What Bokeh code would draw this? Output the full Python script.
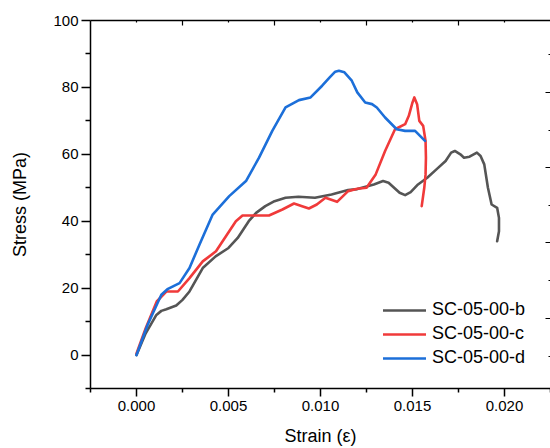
from bokeh.plotting import figure
from bokeh.models import LinearAxis, FixedTicker, Legend, LegendItem, Range1d
from bokeh.embed import file_html
from bokeh.resources import INLINE

# --- data ---
strain_b = [0.0, 0.0005, 0.00108, 0.00135, 0.00162, 0.00216, 0.0025, 0.00288, 0.0036, 0.0043,
            0.005, 0.0055, 0.0061, 0.0065, 0.007, 0.0075, 0.0081, 0.0088, 0.0097, 0.0106,
            0.0115, 0.0120, 0.0129, 0.0134, 0.0137, 0.0143, 0.0146, 0.0149, 0.0153, 0.0158,
            0.0163, 0.0168, 0.0171, 0.0173, 0.0176, 0.0178, 0.0181, 0.0185, 0.0187, 0.0189,
            0.0191, 0.0193, 0.0196, 0.0197, 0.0197, 0.0196]
stress_b = [0.0, 6.5, 12.0, 13.2, 13.7, 14.8, 16.5, 19.0, 26.0, 29.5,
            32.0, 35.0, 40.0, 42.5, 44.5, 46.0, 47.0, 47.3, 47.0, 48.0,
            49.3, 49.6, 51.0, 52.0, 51.5, 48.5, 47.8, 48.7, 51.0, 53.0,
            55.5, 58.0, 60.5, 61.0, 60.0, 59.0, 59.3, 60.5, 59.5, 57.0,
            50.0, 45.0, 44.0, 41.0, 37.0, 34.0]

strain_c = [0.0, 0.0005, 0.0011, 0.00162, 0.00225, 0.00288, 0.0036, 0.00432, 0.00504, 0.0054,
            0.00576, 0.00649, 0.0072, 0.00793, 0.00856, 0.009, 0.00937, 0.0098, 0.01027, 0.0109,
            0.0115, 0.0120, 0.0125, 0.0130, 0.01351, 0.01405, 0.0146, 0.0148, 0.0150, 0.0151,
            0.01525, 0.01537, 0.01558, 0.01571, 0.01573, 0.01571, 0.01564, 0.0155]
stress_c = [0.5, 8.0, 16.0, 19.0, 19.0, 23.0, 28.0, 31.0, 37.0, 40.0,
            41.7, 41.7, 41.7, 43.5, 45.3, 44.5, 43.8, 45.0, 47.0, 45.8,
            49.0, 49.7, 50.0, 54.0, 61.0, 67.5, 69.0, 71.5, 75.5, 77.0,
            75.0, 70.0, 68.5, 64.0, 59.0, 54.0, 50.0, 44.5]

strain_d = [0.0, 0.0006, 0.00135, 0.00171, 0.00234, 0.00288, 0.00342, 0.00414, 0.00504, 0.00595,
            0.00666, 0.00738, 0.0081, 0.00883, 0.00946, 0.01009, 0.0105, 0.0108, 0.0110, 0.0113,
            0.0117, 0.0120, 0.01243, 0.0128, 0.01306, 0.01351, 0.01414, 0.0146, 0.01514, 0.01568]
stress_d = [0.0, 9.0, 18.0, 19.8, 21.5, 26.0, 33.0, 42.0, 47.5, 52.0,
            59.0, 67.0, 74.0, 76.2, 77.0, 80.5, 83.0, 84.7, 85.0, 84.5,
            82.0, 78.5, 75.5, 75.0, 74.0, 71.0, 67.5, 67.0, 67.0, 64.0]

series_names = ["SC-05-00-b", "SC-05-00-c", "SC-05-00-d"]
series_colors = ["#555555", "#f03a3a", "#1c6fd9"]

x_ticks = [0.0, 0.005, 0.010, 0.015, 0.020]
x_minor = [-0.0025, 0.0025, 0.0075, 0.0125, 0.0175, 0.0225]
y_ticks = [0, 20, 40, 60, 80, 100]
y_minor = [-10, 10, 30, 50, 70, 90]
top_major = [0.0025, 0.0075, 0.0125, 0.0175]
top_minor = [0.0, 0.005, 0.010, 0.015, 0.020]
right_major = [11.0, 33.5, 56.0, 78.5]
right_minor = [-0.5, 22.25, 44.75, 67.25, 89.75]

FONT = "Liberation Sans"

p = figure(width=550, height=448, x_range=Range1d(-0.0025, 0.0225), y_range=Range1d(-10, 100),
           output_backend="svg", toolbar_location=None,
           min_border_left=90, min_border_right=0, min_border_top=20, min_border_bottom=60)
p.outline_line_color = None
p.xgrid.visible = False
p.ygrid.visible = False
p.background_fill_color = "white"
p.border_fill_color = "white"

lines = []
for xs, ys, c in zip([strain_b, strain_c, strain_d], [stress_b, stress_c, stress_d], series_colors):
    r = p.line(xs, ys, line_color=c, line_width=2.6, line_join="round", line_cap="round")
    lines.append(r)

# bottom axis
xa = p.xaxis[0]
xa.ticker = FixedTicker(ticks=x_ticks, minor_ticks=x_minor)
xa.major_label_overrides = {t: f"{t:.3f}" for t in x_ticks}
xa.axis_label = "Strain (\u03b5)"
# left axis
ya = p.yaxis[0]
ya.ticker = FixedTicker(ticks=y_ticks, minor_ticks=y_minor)
ya.axis_label = "Stress (MPa)"

for ax in (xa, ya):
    ax.axis_line_color = "black"
    ax.axis_line_width = 1.5
    ax.major_tick_line_color = "black"
    ax.minor_tick_line_color = "black"
    ax.major_tick_line_width = 1.5
    ax.minor_tick_line_width = 1.5
    ax.major_tick_in = 0
    ax.minor_tick_in = 0
    ax.major_label_text_font = FONT
    ax.major_label_text_font_size = "15px"
    ax.major_label_text_color = "black"
    ax.axis_label_text_font = FONT
    ax.axis_label_text_font_size = "18px"
    ax.axis_label_text_font_style = "normal"
    ax.axis_label_text_color = "black"

xa.major_tick_out = 8
xa.minor_tick_out = 4
xa.major_label_standoff = 4
xa.axis_label_standoff = 12
ya.major_tick_out = 9
ya.minor_tick_out = 5
ya.major_label_standoff = 3
ya.axis_label_standoff = 20

# top and right axes: ticks only, no labels
top = LinearAxis(ticker=FixedTicker(ticks=top_major, minor_ticks=top_minor))
right = LinearAxis(ticker=FixedTicker(ticks=right_major, minor_ticks=right_minor))
for ax, ticks in ((top, top_major), (right, right_major)):
    ax.major_label_overrides = {t: "" for t in ticks}
    ax.major_label_standoff = 0
    ax.major_tick_out = 0
    ax.minor_tick_out = 0
    ax.major_tick_in = 5
    ax.minor_tick_in = 2
    ax.major_tick_line_color = "black"
    ax.minor_tick_line_color = "black"
    ax.major_tick_line_width = 1.2
    ax.minor_tick_line_width = 1.2
top.axis_line_color = "black"
top.axis_line_width = 1.5
right.axis_line_color = None
p.add_layout(top, "above")
p.add_layout(right, "right")

legend = Legend(items=[LegendItem(label=n, renderers=[r]) for n, r in zip(series_names, lines)],
                location=(293, 20), border_line_color=None, background_fill_alpha=0,
                label_text_font=FONT, label_text_font_size="18px", label_text_color="black",
                glyph_width=43, glyph_height=20, label_standoff=6, spacing=3, padding=2,
                label_height=20)
p.add_layout(legend, "center")

open("out.html", "w").write(file_html(p, INLINE))
